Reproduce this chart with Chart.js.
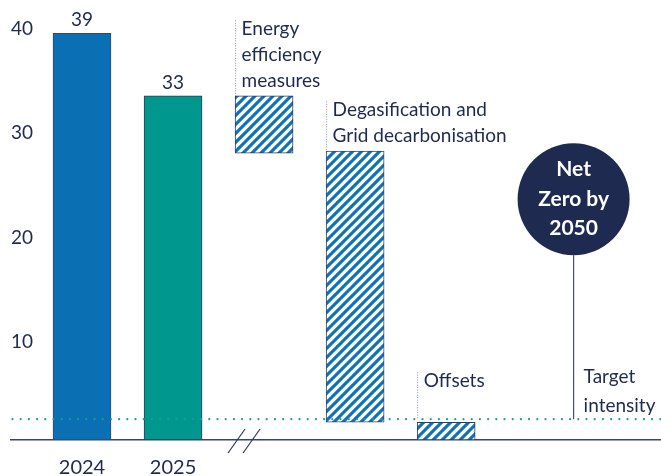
<!DOCTYPE html>
<html>
<head>
<meta charset="utf-8">
<script src="https://cdn.jsdelivr.net/npm/chart.js@4.4.1/dist/chart.umd.min.js"></script>
<style>
    body { margin: 0; background: #fff; }
    canvas { display: block; }
</style>
</head>
<body>
<canvas id="grafico-cascata" width="661" height="476"></canvas>
<script>
// Dados do gráfico
const categorias = ['2024', '2025', 'Energy efficiency measures', 'Degasification and Grid decarbonisation', 'Offsets'];
const inicio = [0, 0, 27.5, 1.7, 0];
const fim = [39, 33, 33, 27.7, 1.7];
const rotulosValor = ['39', '33', '', '', ''];
const rotulosEixoX = ['2024', '2025'];
const ticksY = [10, 20, 30, 40];
const alvo = 2.0;
const textoEtapas = [[], [], ['Energy', 'efficiency', 'measures'], ['Degasification and', 'Grid decarbonisation'], ['Offsets']];
const textoAlvo = ['Target', 'intensity'];
const textoNetZero = ['Net', 'Zero by', '2050'];

const corTexto = '#1e2a4f';
const fonte = '19px Lato';

// Padrão listrado das barras de redução
function criarHachura() {
    const c = document.createElement('canvas');
    c.width = 18;
    c.height = 18;
    const ctx = c.getContext('2d');
    ctx.fillStyle = '#ffffff';
    ctx.fillRect(0, 0, 18, 18);
    ctx.strokeStyle = '#0e72b8';
    ctx.lineWidth = 3.1;
    for (let k = -3; k <= 3; k++) {
        ctx.beginPath();
        ctx.moveTo(k * 9 - 9, 27);
        ctx.lineTo(k * 9 + 27, -9);
        ctx.stroke();
    }
    return ctx.createPattern(c, 'repeat');
}

// Textos, linha do alvo, círculo e quebra do eixo
const anotacoes = {
    id: 'anotacoes',
    afterDatasetsDraw(chart) {
        const ctx = chart.ctx;
        const area = chart.chartArea;
        const escalaX = chart.scales.x;
        const escalaY = chart.scales.y;
        const barras = chart.getDatasetMeta(0).data;
        const yAlvo = escalaY.getPixelForValue(alvo);

        ctx.save();

        // linha pontilhada do alvo
        ctx.fillStyle = '#14a096';
        for (let px = area.left + 1.5; px < area.right; px += 8.2) {
            ctx.beginPath();
            ctx.arc(px, yAlvo, 1.1, 0, Math.PI * 2);
            ctx.fill();
        }

        // valores acima das barras
        ctx.font = fonte;
        ctx.fillStyle = corTexto;
        ctx.textAlign = 'center';
        ctx.textBaseline = 'alphabetic';
        barras.forEach((b, i) => {
            if (rotulosValor[i]) ctx.fillText(rotulosValor[i], b.x, b.y - 7);
        });

        // rótulos das etapas com linha guia
        ctx.textAlign = 'left';
        barras.forEach((b, i) => {
            const linhas = textoEtapas[i];
            if (!linhas.length) return;
            const esquerda = b.x - b.width / 2;
            const topo = b.y;
            const fundo = topo > yAlvo ? yAlvo - 32 : topo - 9;
            const primeira = fundo - (linhas.length - 1) * 25.8;
            linhas.forEach((t, k) => ctx.fillText(t, esquerda + 6.5, primeira + k * 25.8));

            ctx.strokeStyle = '#8d93aa';
            ctx.lineWidth = 1;
            ctx.setLineDash([1, 1.5]);
            ctx.beginPath();
            ctx.moveTo(esquerda + 0.5, primeira - 15);
            ctx.lineTo(esquerda + 0.5, Math.min(topo, yAlvo));
            ctx.stroke();
            ctx.setLineDash([]);
        });

        // círculo Net Zero
        const cx = escalaX.getPixelForValue(5.4);
        const cy = escalaY.getPixelForValue(23.1);
        const raio = 56;
        ctx.strokeStyle = '#4a5270';
        ctx.lineWidth = 1.2;
        ctx.beginPath();
        ctx.moveTo(cx, cy + raio);
        ctx.lineTo(cx, yAlvo);
        ctx.stroke();

        ctx.fillStyle = '#1f2a50';
        ctx.beginPath();
        ctx.arc(cx, cy, raio, 0, Math.PI * 2);
        ctx.fill();

        ctx.fillStyle = '#ffffff';
        ctx.font = 'bold 21px Lato';
        ctx.textAlign = 'center';
        ctx.textBaseline = 'middle';
        textoNetZero.forEach((t, k) => ctx.fillText(t, cx, cy + (k - 1) * 29.5));

        // texto do alvo
        ctx.fillStyle = corTexto;
        ctx.font = fonte;
        ctx.textAlign = 'left';
        ctx.textBaseline = 'alphabetic';
        textoAlvo.forEach((t, k) => ctx.fillText(t, cx + 10, yAlvo - 35.7 + k * 28.4));

        // quebra do eixo
        const xq = escalaX.getPixelForValue(1.78);
        ctx.strokeStyle = '#2a3558';
        ctx.lineWidth = 1.2;
        [-7.5, 7.5].forEach(d => {
            ctx.beginPath();
            ctx.moveTo(xq + d - 8.5, area.bottom + 13);
            ctx.lineTo(xq + d + 8.5, area.bottom - 11);
            ctx.stroke();
        });

        ctx.restore();
    }
};

window.addEventListener('load', () => {
    gerarGraficoCascata();
});

function gerarGraficoCascata() {
    const canvas = document.getElementById('grafico-cascata');
    const hachura = criarHachura();
    new Chart(canvas, {
        type: 'bar',
        data: {
            datasets: [{
                data: categorias.map((c, i) => ({ x: i, y: [inicio[i], fim[i]] })),
                backgroundColor: ['#0b6fb3', '#00978e', hachura, hachura, hachura],
                borderColor: ['#3a4668', '#2b3a5c', '#2c3a66', '#3a4668', '#2c3a66'],
                borderWidth: 1,
                borderSkipped: false,
                barThickness: 58
            }]
        },
        options: {
            responsive: false,
            animation: false,
            layout: {
                padding: { left: 11, right: 0, top: 0, bottom: 0 }
            },
            plugins: {
                legend: { display: false },
                tooltip: { enabled: false }
            },
            scales: {
                x: {
                    type: 'linear',
                    offset: false,
                    min: -0.78,
                    max: 6.36,
                    grid: { display: false, drawTicks: false },
                    border: { color: '#3b4567', width: 1.5 },
                    afterBuildTicks: (s) => { s.ticks = rotulosEixoX.map((r, i) => ({ value: i })); },
                    afterFit: (s) => { s.height = 36; s.paddingLeft = 0; s.paddingRight = 0; },
                    ticks: {
                        callback: (v) => rotulosEixoX[v] ?? '',
                        padding: 16,
                        color: corTexto,
                        font: { family: 'Lato', size: 20 }
                    }
                },
                y: {
                    min: 0,
                    max: 42.2,
                    grid: { display: false, drawTicks: false },
                    border: { display: false },
                    afterBuildTicks: (s) => { s.ticks = ticksY.map(v => ({ value: v })); },
                    afterFit: (s) => { s.width = 0; s.paddingTop = 0; s.paddingBottom = 0; },
                    ticks: {
                        mirror: true,
                        padding: 0,
                        labelOffset: 6,
                        color: corTexto,
                        font: { family: 'Lato', size: 19 }
                    }
                }
            }
        },
        plugins: [anotacoes]
    });
}
</script>
</body>
</html>
